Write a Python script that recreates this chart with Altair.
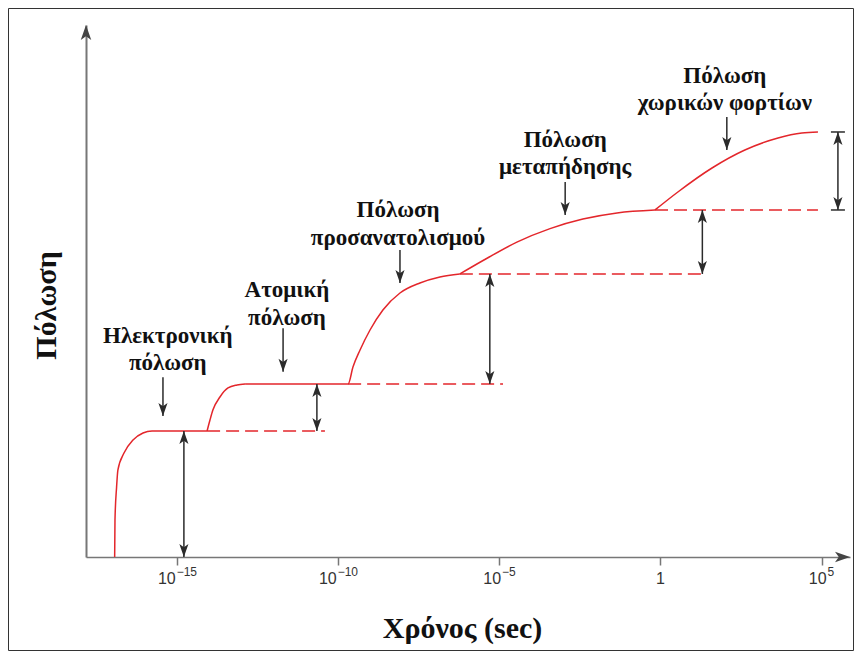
import altair as alt
import pandas as pd

# ---------------- data ----------------
# x = log10(time / s), y = polarisation (arbitrary units, 0-100)
# each rise of the curve is one segment (they meet at corners)
curve_seg = [1] * 9 + [2] * 7 + [3] * 9 + [4] * 7 + [5] * 7
curve_logt = [-16.95, -16.94, -16.89, -16.85, -16.66, -16.38, -16.07, -15.79, -14.08,
              -14.08, -13.99, -13.90, -13.68, -13.43, -13.15, -12.90,
              -12.90, -9.70, -9.55, -9.33, -9.02, -8.62, -8.09, -7.47, -6.85,
              -6.23, -5.51, -4.46, -3.43, -2.41, -1.35, -0.17,
              -0.17, 0.54, 1.60, 2.62, 3.65, 4.39, 4.89]
curve_p = [0.0, 6.95, 13.16, 16.35, 19.55, 21.99, 23.31, 23.68, 23.68,
           23.68, 25.75, 27.63, 30.08, 31.77, 32.33, 32.52,
           32.52, 32.52, 35.71, 38.91, 42.67, 46.43, 49.62, 51.50, 52.63,
           53.20, 55.73, 59.19, 61.73, 63.53, 64.68, 65.23,
           65.23, 68.61, 73.12, 76.50, 78.76, 79.70, 79.89]
# segment 3 ends where segment 4 starts
curve_seg_end = {3: (-6.23, 53.20)}

dash_start = [-14.08, -9.70, -6.23, -0.17]
dash_end = [-10.42, -4.89, 1.38, 4.89]
dash_level = [23.68, 32.52, 53.20, 65.23]

darrow_x = [-14.80, -10.67, -5.30, 1.30, 5.51]
darrow_lo = [0.0, 23.68, 32.52, 53.20, 65.23]
darrow_hi = [23.68, 32.52, 53.20, 65.23, 79.89]

cap_x = [5.51, 5.51]
cap_p = [65.23, 79.89]

down_x = [-15.45, -11.72, -8.09, -2.96, 2.06]
down_top = [33.8, 43.0, 57.7, 70.5, 82.7]
down_tip = [26.5, 34.8, 51.5, 64.3, 76.5]

label_x = [-15.30, -15.30, -11.60, -11.60, -8.15, -8.15, -2.96, -2.96, 2.00, 2.00]
label_p = [41.54, 36.47, 50.19, 44.92, 65.23, 59.96, 78.38, 73.31, 90.41, 85.34]
label_text = ["Ηλεκτρονική", "πόλωση", "Ατομική", "πόλωση",
              "Πόλωση", "προσανατολισμού", "Πόλωση", "μεταπήδησης",
              "Πόλωση", "χωρικών φορτίων"]

x_ticks = [-15, -10, -5, 0, 5]
x_tick_base = ["10", "10", "10", "1", "10"]
x_tick_exp = ["−15", "−10", "−5", "", "5"]

x_domain = [-17.84, 5.885]
y_domain = [0, 100]

# ---------------- styling ----------------
W, H = 764, 532
RED = "#e3262b"
INK = "#2b2b2b"
AXIS = "#777777"
UP = "M0,0L0.35,1L0,0.75L-0.35,1Z"
DOWN = "M0,0L0.35,-1L0,-0.75L-0.35,-1Z"
RIGHT = "M0,0L-1,0.35L-0.75,0L-1,-0.35Z"
CAP = "M-1,0L1,0"
BASE_FS, EXP_FS = 16, 12

xs = alt.Scale(domain=x_domain, nice=False, zero=False)
ys = alt.Scale(domain=y_domain, nice=False, zero=False)

seg_t, seg_p, seg_id = list(curve_logt), list(curve_p), list(curve_seg)
for s, (t, p) in curve_seg_end.items():
    seg_t.append(t); seg_p.append(p); seg_id.append(s)
curve_df = pd.DataFrame({"t": seg_t, "p": seg_p, "seg": seg_id})
dash_df = pd.DataFrame({"t": dash_start, "t2": dash_end, "p": dash_level})
darrow_df = pd.DataFrame({"t": darrow_x, "lo": darrow_lo, "hi": darrow_hi})
cap_df = pd.DataFrame({"t": cap_x, "p": cap_p})
down_df = pd.DataFrame({"t": down_x, "top": down_top, "tip": down_tip})
label_df = pd.DataFrame({"t": label_x, "p": label_p, "txt": label_text})
axis_end_df = pd.DataFrame({"t": [x_domain[1]], "p": [y_domain[0]]})
yaxis_end_df = pd.DataFrame({"t": [x_domain[0]], "p": [y_domain[1]]})
frame_df = pd.DataFrame({"k": [0]})

# tick labels "10" + superscript exponent, centred as a whole on each tick
px_per_unit = W / (x_domain[1] - x_domain[0])


def text_w(s, fs):
    return sum((0.584 if c == "−" else 0.556) * fs for c in s)


tick_rows = []
for v, b, e in zip(x_ticks, x_tick_base, x_tick_exp):
    wb, we = text_w(b, BASE_FS), text_w(e, EXP_FS)
    total = wb + we + (1 if e else 0)
    left = -total / 2
    tick_rows.append({"tb": v + (left + wb) / px_per_unit, "te": v + (left + wb + 1) / px_per_unit,
                      "base": b, "exp": e})
tick_df = pd.DataFrame(tick_rows)

x_axis = alt.Axis(values=x_ticks, labels=False, grid=False,
                  domainColor=AXIS, domainWidth=1.5, tickColor=AXIS, tickWidth=1.5,
                  tickSize=8,
                  title="Χρόνος (sec)", titleFont="Liberation Serif", titleFontSize=30,
                  titleFontWeight="bold", titleColor="#111111",
                  titleX=376, titleY=71, titleBaseline="middle", titleAlign="center")
y_axis = alt.Axis(ticks=False, labels=False, grid=False,
                  domainColor=AXIS, domainWidth=2,
                  title="Πόλωση", titleFont="Liberation Serif", titleFontSize=30,
                  titleFontWeight="bold", titleColor="#111111", titleAngle=270,
                  titleX=-40, titleY=280, titleBaseline="middle", titleAlign="center")


def X(field):
    return alt.X(field, scale=xs, axis=x_axis)


def Y(field):
    return alt.Y(field, scale=ys, axis=y_axis)


curve = alt.Chart(curve_df).mark_line(color=RED, strokeWidth=1.5, interpolate="monotone").encode(
    x=X("t:Q"), y=Y("p:Q"), detail="seg:N",
)

dashes = alt.Chart(dash_df).mark_rule(color=RED, strokeWidth=1.5, strokeDash=[13, 6]).encode(
    x=X("t:Q"), x2="t2:Q", y=Y("p:Q"),
)

d_shaft = alt.Chart(darrow_df).mark_rule(color=INK, strokeWidth=1.5).encode(
    x=X("t:Q"), y=Y("lo:Q"), y2="hi:Q",
)
d_head_up = alt.Chart(darrow_df).mark_point(shape=UP, size=676, filled=True, color=INK,
                                             opacity=1, strokeWidth=0).encode(
    x=X("t:Q"), y=Y("hi:Q"))
d_head_dn = alt.Chart(darrow_df).mark_point(shape=DOWN, size=676, filled=True, color=INK,
                                             opacity=1, strokeWidth=0).encode(
    x=X("t:Q"), y=Y("lo:Q"))
caps = alt.Chart(cap_df).mark_point(shape=CAP, size=196, filled=False, color=INK,
                                     opacity=1, strokeWidth=1.5).encode(
    x=X("t:Q"), y=Y("p:Q"))

dn_shaft = alt.Chart(down_df).mark_rule(color=INK, strokeWidth=1.5).encode(
    x=X("t:Q"), y=Y("top:Q"), y2="tip:Q",
)
dn_head = alt.Chart(down_df).mark_point(shape=DOWN, size=676, filled=True, color=INK,
                                         opacity=1, strokeWidth=0).encode(
    x=X("t:Q"), y=Y("tip:Q"))

labels = alt.Chart(label_df).mark_text(font="Liberation Serif", fontSize=23, fontWeight="bold",
                                        color="#111111", baseline="middle", align="center").encode(
    x=X("t:Q"), y=Y("p:Q"), text="txt:N")

tick_base = alt.Chart(tick_df).mark_text(font="Liberation Sans", fontSize=BASE_FS, color="#333333",
                                          align="right", baseline="middle").encode(
    x=X("tb:Q"), y=alt.value(H + 22), text="base:N")
tick_exp = alt.Chart(tick_df).mark_text(font="Liberation Sans", fontSize=EXP_FS, color="#333333",
                                         align="left", baseline="middle").encode(
    x=X("te:Q"), y=alt.value(H + 15), text="exp:N")

x_arrow = alt.Chart(axis_end_df).mark_point(shape=RIGHT, size=900, filled=True, color="#444444",
                                             opacity=1, strokeWidth=0).encode(
    x=X("t:Q"), y=Y("p:Q"))
y_arrow = alt.Chart(yaxis_end_df).mark_point(shape=UP, size=900, filled=True, color="#444444",
                                              opacity=1, strokeWidth=0).encode(
    x=X("t:Q"), y=Y("p:Q"))

frame = alt.Chart(frame_df).mark_rect(fillOpacity=0, stroke="#333333", strokeWidth=1).encode(
    x=alt.value(-77.5), x2=alt.value(767.5), y=alt.value(-16.5), y2=alt.value(625.5))

chart = alt.layer(
    curve, dashes, d_shaft, d_head_up, d_head_dn, caps, dn_shaft, dn_head, labels,
    tick_base, tick_exp, x_arrow, y_arrow, frame,
).properties(
    width=W, height=H,
    padding={"left": 78, "top": 17, "right": 4, "bottom": 94},
    autosize=alt.AutoSizeParams(type="none"),
    background="white",
).configure_view(stroke=None)

chart.save("out.html", embed_options={"renderer": "svg", "actions": False})
